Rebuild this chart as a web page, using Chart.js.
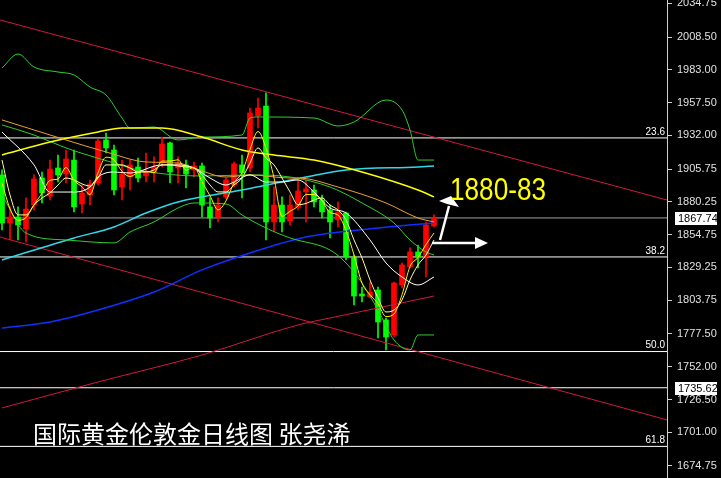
<!DOCTYPE html>
<html>
<head>
<meta charset="utf-8">
<script src="https://cdn.jsdelivr.net/npm/chart.js@4.4.1/dist/chart.umd.min.js"></script>
<style>
html, body { margin: 0; padding: 0; background: #000; }
#wrap { position: relative; width: 721px; height: 478px; }
</style>
</head>
<body>
<div id="wrap"><canvas id="goldChart"></canvas></div>
<script>
// Daily candles (index 0 = leftmost visible bar)
const opens = [1901.2,1863.8,1868.5,1859.2,1877.8,1898.8,1884.8,1906.6,1901.9,1912.8,1878.6,1885.6,1894.9,1928.4,1920.6,1891.8,1899.6,1907.4,1900.4,1902.7,1910.5,1926.1,1906.6,1909.0,1905.1,1908.2,1876.3,1868.5,1884.1,1893.4,1909.0,1906.6,1947.1,1954.8,1864.6,1877.8,1865.4,1876.3,1888.0,1889.5,1881.7,1873.9,1866.2,1871.6,1837.4,1808.6,1806.3,1811.7,1788.4,1776.7,1815.6,1829.6,1841.3,1837.4,1861.5];
const highs = [1905.1,1876.3,1876.3,1883.3,1901.2,1903.5,1912.8,1916.7,1920.6,1920.6,1893.4,1897.3,1929.2,1933.8,1924.5,1912.8,1912.8,1914.4,1918.3,1915.2,1930.7,1926.8,1915.2,1912.8,1911.3,1910.5,1883.3,1883.3,1898.8,1911.3,1916.7,1953.3,1961.1,1965.0,1891.8,1884.1,1885.6,1898.8,1897.3,1893.4,1885.6,1877.8,1880.2,1872.4,1838.9,1814.0,1817.9,1814.0,1789.9,1817.9,1832.7,1844.4,1846.7,1864.6,1870.1];
const lows = [1858.4,1850.6,1850.6,1849.0,1873.9,1879.4,1881.7,1895.7,1894.9,1872.4,1871.6,1877.8,1893.4,1918.3,1885.6,1881.7,1889.5,1895.7,1895.7,1895.7,1907.4,1894.9,1894.9,1891.1,1899.6,1868.5,1859.9,1864.6,1882.5,1891.8,1883.3,1903.5,1937.7,1850.6,1856.8,1856.8,1862.3,1873.9,1864.6,1876.3,1867.7,1852.2,1860.7,1835.0,1800.0,1802.4,1805.5,1774.4,1765.0,1775.1,1813.3,1828.8,1828.8,1821.8,1860.7];
const closes = [1863.8,1868.5,1862.3,1874.7,1898.1,1887.2,1905.8,1901.2,1913.6,1876.3,1887.2,1894.2,1927.6,1922.2,1889.5,1901.9,1909.0,1898.8,1903.5,1907.4,1925.3,1903.5,1910.5,1901.9,1908.2,1877.8,1867.7,1877.8,1897.3,1909.8,1902.7,1949.4,1953.3,1864.6,1877.8,1864.6,1877.8,1888.7,1890.3,1880.2,1872.4,1864.6,1872.4,1837.4,1807.0,1807.0,1810.1,1786.8,1775.1,1817.1,1831.2,1841.3,1837.4,1862.3,1867.74];

// Moving averages (x = bar index)
const ma3 = [1895,1875,1866,1868,1878,1887,1897,1898,1907,1897,1892,1886,1903,1915,1913,1904,1900,1903,1904,1903,1912,1912,1913,1905,1907,1896,1885,1874,1881,1895,1903,1921,1935,1922,1899,1869,1873,1877,1886,1886,1881,1872,1870,1858,1839,1817,1808,1801,1791,1793,1808,1830,1837,1847,1856];
const ma5 = [1912.8,1885.6,1870.1,1870.1,1877.8,1883.3,1887.2,1893.4,1898.8,1897.3,1894.2,1892.6,1898.8,1909.0,1909.0,1909.0,1906.6,1903.5,1903.5,1905.1,1909.0,1909.0,1908.2,1907.4,1906.6,1901.2,1893.4,1888.0,1888.0,1893.4,1898.8,1910.5,1922.2,1914.4,1909.0,1898.8,1888.0,1878.0,1879.0,1881.7,1883.3,1877.8,1873.9,1866.2,1850.6,1836.6,1819.5,1805.5,1794.6,1796.1,1803.9,1819.5,1831.2,1838.9,1850.6];
const maWhiteX = [0,4,6,9,11,12,14,16,20,22,24,26,28,29,31,33,35,37,39,41,43,46,48,50,52,54];
const maWhite = [1934.6,1909.0,1887.9,1887.9,1891.8,1899.6,1903.5,1902.7,1909.0,1909.0,1906.6,1898.8,1893.4,1895.7,1901.2,1895.7,1895.7,1897.3,1887.9,1875.5,1871.6,1850.6,1832.7,1821.8,1815.6,1821.8];
const maOrangeX = [0,4,8,13,18,22,24,28,31,36,37,42,48,52,54];
const maOrange = [1944.0,1936.2,1928.4,1919.1,1911.3,1910.5,1906.6,1899.6,1901.2,1898.8,1898.8,1891.8,1879.4,1867.7,1864.6];
const maYellowX = [0,6,12,15,20,25,30,34,39,45,52,54];
const maYellow = [1916.7,1926.8,1934.6,1937.7,1937.7,1930.7,1920.6,1916.7,1912.8,1903.5,1889.5,1884.1];
const bbUpperX = [0,2,4,7,9,11,13,15,16,19,22,25,30,31,32,39,42,44,48,50,51,52,54];
const bbUpper = [1984.4,1995.3,1985.2,1981.3,1979.0,1969.6,1963.4,1945.5,1937.7,1938.5,1928.4,1930.7,1932.3,1945.5,1946.3,1945.5,1939.3,1942.4,1959.5,1951.7,1936.2,1912.8,1912.8];
const bbMidX = [0,4,8,14,17,25,31,36,41,45,49,51,53,54];
const bbMid = [1940.1,1932.3,1922.2,1910.5,1905.1,1900.4,1901.2,1899.6,1891.8,1879.4,1863.8,1850.6,1841.3,1838.9];
const bbLowerX = [0,3,8,14,16,19,22,24,28,30,33,36,41,43,45,47,49,51,52,54];
const bbLower = [1885.6,1856.0,1850.6,1848.3,1856.8,1864.6,1875.5,1879.4,1878.6,1870.1,1859.9,1852.2,1842.8,1832.7,1817.1,1796.1,1772.8,1765.0,1776.7,1776.7];
const maCyanX = [0,9,14,18,22,30,38,43,52,54];
const maCyan = [1835.0,1852.2,1860.7,1871.6,1880.2,1889.5,1899.6,1905.1,1907.4,1908.2];
const maBlueX = [0,6,12,19,25,31,38,47,54];
const maBlue = [1782.1,1786.8,1796.1,1810.1,1827.3,1840.5,1852.9,1859.9,1863.8];
const maRedX = [0,12,25,37,41,47,54];
const maRed = [1719.9,1740.1,1761.1,1784.5,1789.9,1797.7,1807.0];

// Channel lines (values at the left and right edge of the plot)
const upperTrend = [2021.8, 1881.7];
const lowerTrend = [1852.9, 1710.6];

// Horizontal levels
const fibNames = ['23.6', '38.2', '50.0', '61.8'];
const fibValues = [1930.0, 1837.4, 1763.8, 1690.0];
const markedPrices = [1867.74, 1735.62];

// Price axis ticks
const yTicks = [2034.75, 2008.50, 1983.00, 1957.50, 1932.00, 1905.75, 1880.25, 1854.75, 1829.25, 1803.75, 1777.50, 1752.00, 1726.50, 1701.00, 1674.75];

const xMin = -0.25, xMax = 83.125;
const yMin = 1665.4, yMax = 2037.32;

const idx = opens.map((_, i) => i);
const candleColor = idx.map(i => closes[i] >= opens[i] ? '#ff0000' : '#00ff00');

function lineSet(xs, ys, color, width) {
    return {
        type: 'line',
        data: xs.map((x, i) => ({ x: x, y: ys[i] })),
        borderColor: color,
        borderWidth: width,
        pointRadius: 0,
        cubicInterpolationMode: 'monotone',
        fill: false,
        order: 1
    };
}

function levelSet(v, color, order) {
    return {
        type: 'line',
        data: [{ x: xMin, y: v }, { x: xMax, y: v }],
        borderColor: color,
        borderWidth: 1,
        pointRadius: 0,
        fill: false,
        order: order
    };
}

const datasets = [
    lineSet(idx, ma3, '#ffee00', 1),
    lineSet(idx, ma5, '#ffffa0', 1),
    lineSet(maWhiteX, maWhite, '#ffffff', 1),
    lineSet(maOrangeX, maOrange, '#e8a030', 1),
    lineSet(maYellowX, maYellow, '#ffff00', 1.5),
    lineSet(bbUpperX, bbUpper, '#2ecc2e', 1),
    lineSet(bbMidX, bbMid, '#2ecc2e', 1),
    lineSet(bbLowerX, bbLower, '#2ecc2e', 1),
    lineSet(maCyanX, maCyan, '#30d8e8', 1.5),
    lineSet(maBlueX, maBlue, '#1030ff', 1.5),
    lineSet(maRedX, maRed, '#d01840', 1),
    lineSet([xMin, xMax], upperTrend, '#d01840', 1),
    lineSet([xMin, xMax], lowerTrend, '#d01840', 1),
    {
        type: 'bar',
        data: idx.map(i => ({ x: i, y: [lows[i], highs[i]] })),
        backgroundColor: candleColor,
        barThickness: 1,
        grouped: false,
        order: 3
    },
    {
        type: 'bar',
        data: idx.map(i => ({ x: i, y: [opens[i], closes[i]] })),
        backgroundColor: candleColor,
        barThickness: 5,
        minBarLength: 1,
        grouped: false,
        order: 2
    }
];
fibValues.forEach(v => datasets.push(levelSet(v, '#ffffff', 4)));
datasets.push(levelSet(markedPrices[0], '#a0a0a0', 4));
datasets.push(levelSet(markedPrices[1], '#ffffff', 4));

// Labels, arrows and title
const overlay = {
    id: 'overlay',
    afterDatasetsDraw(chart) {
        const ctx = chart.ctx;
        const xs = chart.scales.x, ys = chart.scales.y;
        const right = chart.chartArea.right;
        ctx.save();
        ctx.fillStyle = '#ffffff';
        ctx.font = '10px "Liberation Sans"';
        ctx.textAlign = 'right';
        ctx.textBaseline = 'bottom';
        fibNames.forEach((n, i) => {
            ctx.fillText(n, right - 2, ys.getPixelForValue(fibValues[i]) - 1);
        });

        // arrows
        ctx.strokeStyle = '#ffffff';
        ctx.fillStyle = '#ffffff';
        ctx.lineWidth = 2.5;
        const a0x = xs.getPixelForValue(54.75), a0y = ys.getPixelForValue(1850.6);
        const a1x = xs.getPixelForValue(56.0), a1y = ys.getPixelForValue(1884.8);
        ctx.beginPath(); ctx.moveTo(a0x, a0y); ctx.lineTo(a1x - 1, a1y + 10); ctx.stroke();
        ctx.beginPath();
        ctx.moveTo(a1x + 1, a1y);
        ctx.lineTo(a1x - 11, a1y + 5);
        ctx.lineTo(a1x - 3, a1y + 8);
        ctx.lineTo(a1x + 9, a1y + 11);
        ctx.closePath(); ctx.fill();

        const h0x = xs.getPixelForValue(53.75), hy = ys.getPixelForValue(1848.3);
        const h1x = xs.getPixelForValue(60.75);
        ctx.beginPath(); ctx.moveTo(h0x, hy); ctx.lineTo(h1x - 10, hy); ctx.stroke();
        ctx.beginPath();
        ctx.moveTo(h1x, hy);
        ctx.lineTo(h1x - 13, hy - 6);
        ctx.lineTo(h1x - 13, hy + 6);
        ctx.closePath(); ctx.fill();

        // target text
        ctx.fillStyle = '#ffff00';
        ctx.font = '31px "Liberation Sans"';
        ctx.textAlign = 'left';
        ctx.textBaseline = 'middle';
        ctx.fillText('1880-83', xs.getPixelForValue(56.0), ys.getPixelForValue(1888.7), 96);

        // title
        ctx.fillStyle = '#ffffff';
        ctx.font = '24px "Noto Sans CJK SC"';
        ctx.fillText('国际黄金伦敦金日线图 张尧浠', chart.chartArea.left + 33, 434);
        ctx.restore();
    },
    afterDraw(chart) {
        const ctx = chart.ctx;
        const ys = chart.scales.y;
        const left = chart.chartArea.right;
        ctx.save();
        ctx.font = '11px "Liberation Sans"';
        ctx.textAlign = 'left';
        ctx.textBaseline = 'middle';
        markedPrices.forEach(p => {
            const y = Math.round(ys.getPixelForValue(p));
            ctx.fillStyle = '#ffffff';
            ctx.fillRect(left + 8, y - 6, 42, 13);
            ctx.fillStyle = '#000000';
            ctx.fillText(p.toFixed(2), left + 11, y + 1);
        });
        ctx.restore();
    }
};

new Chart(document.getElementById('goldChart'), {
    type: 'bar',
    data: { datasets: datasets },
    options: {
        responsive: true,
        maintainAspectRatio: false,
        animation: false,
        layout: { padding: 0 },
        plugins: {
            legend: { display: false },
            tooltip: { enabled: false }
        },
        scales: {
            x: {
                type: 'linear',
                min: xMin,
                max: xMax,
                offset: false,
                display: false
            },
            y: {
                position: 'right',
                min: yMin,
                max: yMax,
                afterBuildTicks: s => { s.ticks = yTicks.map(v => ({ value: v })); },
                afterFit: s => { s.width = 54; s.paddingTop = 0; s.paddingBottom = 0; },
                ticks: {
                    color: '#e0e0e0',
                    font: { family: 'Liberation Sans', size: 11 },
                    padding: 5,
                    autoSkip: false,
                    callback: v => v.toFixed(2)
                },
                grid: { drawOnChartArea: false, color: '#d0d0d0', tickLength: 5 },
                border: { color: '#d0d0d0' }
            }
        }
    },
    plugins: [overlay]
});
</script>
</body>
</html>
